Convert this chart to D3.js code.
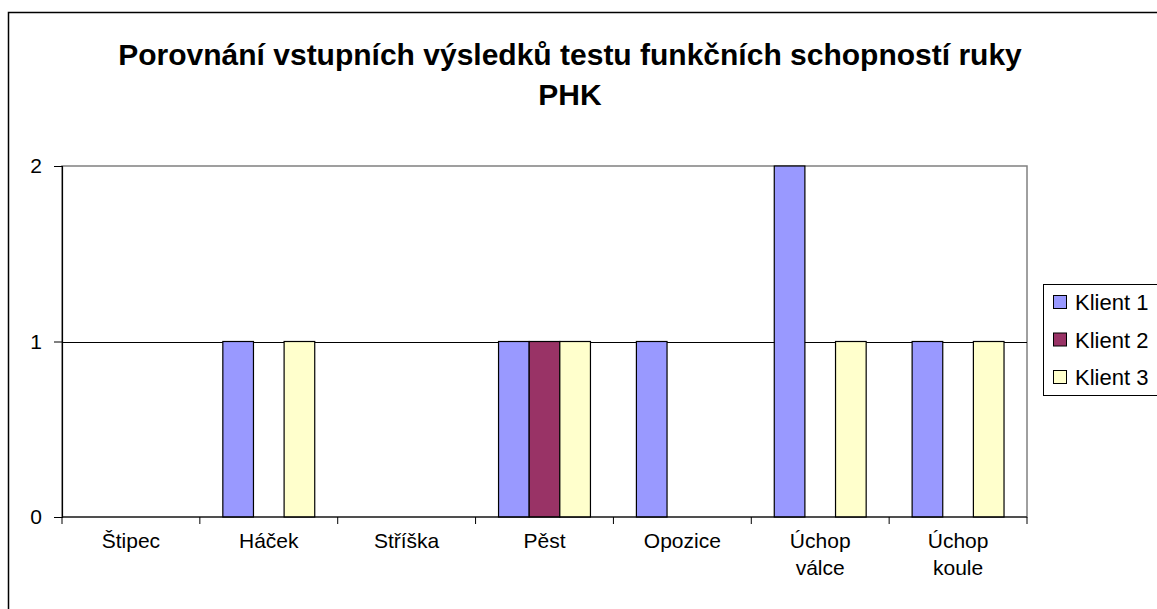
<!DOCTYPE html>
<html><head><meta charset="utf-8">
<script src="https://cdn.jsdelivr.net/npm/d3@7"></script>
<style>body{margin:0;background:#fff}svg{display:block;font-family:"Liberation Sans",Arial,sans-serif}</style>
</head><body><svg id="c" width="1157" height="609"></svg>
<script>
const categories = ["Štipec","Háček","Stříška","Pěst","Opozice","Úchop válce","Úchop koule"];
const seriesNames = ["Klient 1","Klient 2","Klient 3"];
const klient1 = [0,1,0,1,1,2,1];
const klient2 = [0,0,0,1,0,0,0];
const klient3 = [0,1,0,1,0,1,1];
const yTicks = [0,1,2];
const colors = ["#9999FF","#993366","#FFFFCC"];
const titleLines = ["Porovnání vstupních výsledků testu funkčních schopností ruky","PHK"];

const series = [klient1,klient2,klient3];
const svg = d3.select("#c");
// outer border
svg.append("rect").attr("x",8.5).attr("y",12.5).attr("width",1160).attr("height",620)
  .attr("fill","#fff").attr("stroke","#000").attr("stroke-width",1.5);

const m={l:62,r:1027,t:166,b:517};
const x0=d3.scaleBand().domain(categories).range([m.l,m.r]).paddingInner(0).paddingOuter(0);
const gap=1.5;
const y=d3.scaleLinear().domain([0,2]).range([m.b,m.t]);

// plot area border (gray)
svg.append("rect").attr("x",m.l).attr("y",m.t).attr("width",m.r-m.l).attr("height",m.b-m.t)
  .attr("fill","none").attr("stroke","#808080").attr("stroke-width",1.5);
// gridlines
svg.append("g").selectAll("line").data(yTicks.filter(d=>d>0&&d<2)).join("line")
  .attr("x1",m.l).attr("x2",m.r).attr("y1",d=>Math.round(y(d))+0.5).attr("y2",d=>Math.round(y(d))+0.5)
  .attr("stroke","#000").attr("stroke-width",1);

// bars
const bw = x0.bandwidth()/(3+gap);
categories.forEach((c,i)=>{
  series.forEach((s,j)=>{
    if(s[i]<=0) return;
    const bx = x0(c)+bw*gap/2+j*bw;
    svg.append("rect").attr("x",bx).attr("y",y(s[i])).attr("width",bw).attr("height",y(0)-y(s[i]))
      .attr("fill",colors[j]).attr("stroke","#000").attr("stroke-width",1.2);
  });
});

// y axis
const ya=d3.axisLeft(y).tickValues(yTicks).tickFormat(d3.format("d")).tickSize(8).tickPadding(12);
const yg=svg.append("g").attr("transform",`translate(${m.l},0)`).call(ya);
yg.select(".domain").attr("stroke","#000").attr("stroke-width",1.2);
yg.selectAll(".tick line").attr("stroke","#000");
yg.selectAll("text").attr("font-size",21).attr("font-family","Liberation Sans, Arial").attr("fill","#000");

// x axis
svg.append("line").attr("x1",m.l).attr("x2",m.r).attr("y1",m.b).attr("y2",m.b).attr("stroke","#000").attr("stroke-width",1.2);
const bounds=categories.map(c=>x0(c)).concat([m.r]);
svg.append("g").selectAll("line").data(bounds).join("line")
  .attr("x1",d=>d).attr("x2",d=>d).attr("y1",m.b).attr("y2",m.b+7).attr("stroke","#000");
const lg=svg.append("g");
categories.forEach(c=>{
  const parts=c.split(" ");
  const t=lg.append("text").attr("x",x0(c)+x0.bandwidth()/2).attr("y",m.b+31)
    .attr("text-anchor","middle").attr("font-size",21).attr("fill","#000");
  parts.forEach((p,k)=>t.append("tspan").attr("x",x0(c)+x0.bandwidth()/2).attr("dy",k?27:0).text(p));
});

// title
titleLines.forEach((t,i)=>svg.append("text").attr("x",570).attr("y",65+i*40).attr("text-anchor","middle")
  .attr("font-size",30).attr("font-weight","bold").attr("fill","#000").text(t));

// legend
const leg=svg.append("g");
leg.append("rect").attr("x",1043.5).attr("y",284.5).attr("width",130).attr("height",111)
  .attr("fill","#fff").attr("stroke","#000").attr("stroke-width",1);
seriesNames.forEach((n,i)=>{
  const cy=302+i*37.5;
  leg.append("rect").attr("x",1053.5).attr("y",cy-6.5).attr("width",13).attr("height",13)
    .attr("fill",colors[i]).attr("stroke","#000").attr("stroke-width",1);
  leg.append("text").attr("x",1075).attr("y",cy+8).attr("font-size",22).attr("fill","#000").text(n);
});
</script></body></html>
